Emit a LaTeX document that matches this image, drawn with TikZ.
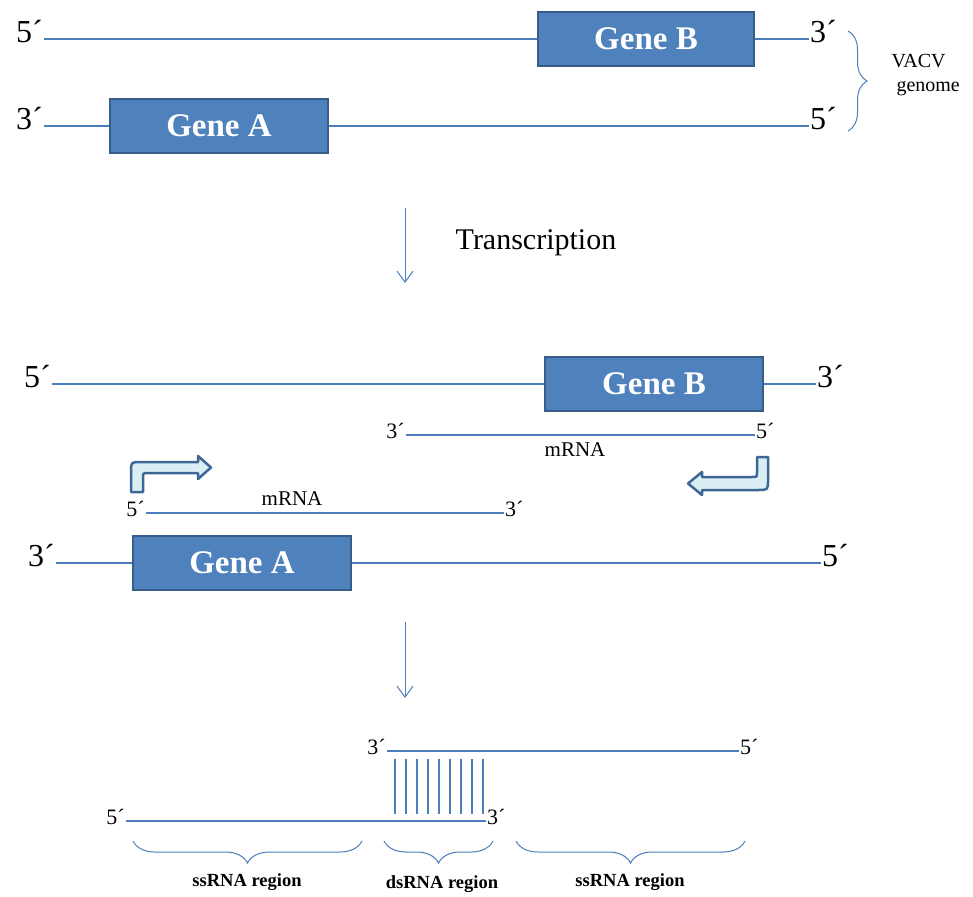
\documentclass[tikz,border=0pt]{standalone}
\usepackage{fontspec}
\setmainfont{Liberation Serif}
\usepackage{tikz}
\usetikzlibrary{arrows.meta,
	calc,
	decorations.pathreplacing}
\definecolor{strandblue}{HTML}{4A7EBB}
\definecolor{genefill}{HTML}{4F81BD}
\definecolor{genedraw}{HTML}{385D8A}
\definecolor{bentdraw}{HTML}{3F6796}
\definecolor{bentfill}{HTML}{DBEEF4}

\begin{document}
\begin{tikzpicture}[x=1pt,y=-1pt]
    \tikzstyle{strand}=[strandblue,line width=1.5pt]
    \tikzstyle{gene}=[rectangle,draw=genedraw,fill=genefill,line width=2.5pt,text=white,font=\fontsize{33}{33}\selectfont\bfseries,minimum height=54pt,inner sep=0pt]
    \tikzstyle{endbig}=[inner sep=1pt,text height=0.7em,text depth=0pt,font=\fontsize{32}{32}\selectfont]
    \tikzstyle{endsmall}=[inner sep=1pt,text height=0.7em,text depth=0pt,font=\fontsize{22}{22}\selectfont]
    \tikzstyle{flow}=[strandblue,line width=1pt,-{Straight Barb[length=11pt,width=16pt]}]
    \tikzstyle{bent}=[draw=bentdraw,fill=bentfill,line width=2.5pt,line join=round]
    \tikzstyle{brace}=[strandblue,line width=1pt,decorate]
    \tikzstyle{region}=[font=\fontsize{18.5}{18.5}\selectfont\bfseries]
    \useasboundingbox (0,0) rectangle (973,896);
    % genome
    \node[endbig,anchor=east] (e_1) at (44,39) {5´};
    \node[gene,minimum width=216pt] (gB_1) at (646,39) {Gene B};
    \node[endbig,anchor=west] (e_2) at (809,39) {3´};
    \draw[strand] (e_1.east) -- (e_1.east -| gB_1.west);
    \draw[strand] (gB_1.east |- e_2.west) -- (e_2.west);
    \node[endbig,anchor=east] (e_3) at (44,126) {3´};
    \node[gene,minimum width=218pt] (gA_1) at (219,126) {Gene A};
    \node[endbig,anchor=west] (e_4) at (809,126) {5´};
    \draw[strand] (e_3.east) -- (e_3.east -| gA_1.west);
    \draw[strand] (gA_1.east |- e_4.west) -- (e_4.west);
    \draw[brace,decoration={brace,amplitude=19pt}] (848,31) -- (848,131);
    \node[anchor=west,align=left,font=\fontsize{20}{26}\selectfont] (vacv) at (888,75) {VACV\\[-2pt]\ genome};
    % transcription
    \coordinate (a_1) at (405,208);
    \coordinate (a_2) at (405,283);
    \draw[flow] (a_1) -- (a_2);
    \node[font=\fontsize{30}{30}\selectfont] (tr) at (536,243) {Transcription};
    % transcripts
    \node[endbig,anchor=east] (e_5) at (52,384) {5´};
    \node[gene,minimum width=218pt] (gB_2) at (654,384) {Gene B};
    \node[endbig,anchor=west] (e_6) at (816,384) {3´};
    \draw[strand] (e_5.east) -- (e_5.east -| gB_2.west);
    \draw[strand] (gB_2.east |- e_6.west) -- (e_6.west);
    \node[endsmall,anchor=east] (m_1) at (406,435) {3´};
    \node[endsmall,anchor=west] (m_2) at (755,435) {5´};
    \draw[strand] (m_1) -- (m_2);
    \node[font=\fontsize{21}{21}\selectfont] (mB) at (575,450) {mRNA};
    \draw[bent] (131,492) -- (131,472) .. controls (131,462) .. (141,462) -- (198,462) -- (198,456)
      -- (211,467.5) -- (198,479) -- (198,473) -- (148,473) .. controls (143,473) .. (143,478) -- (143,492) -- cycle;
    \draw[bent] (768,457) -- (768,480) .. controls (768,490) .. (758,490) -- (702,490) -- (702,495)
      -- (688,483.5) -- (702,472) -- (702,477) -- (752,477) .. controls (757,477) .. (757,472) -- (757,457) -- cycle;
    \node[endsmall,anchor=east] (m_3) at (146,513) {5´};
    \node[endsmall,anchor=west] (m_4) at (504,513) {3´};
    \draw[strand] (m_3) -- (m_4);
    \node[font=\fontsize{21}{21}\selectfont] (mA) at (292,499) {mRNA};
    \node[endbig,anchor=east] (e_7) at (56,563) {3´};
    \node[gene,minimum width=218pt] (gA_2) at (242,563) {Gene A};
    \node[endbig,anchor=west] (e_8) at (821,563) {5´};
    \draw[strand] (e_7.east) -- (e_7.east -| gA_2.west);
    \draw[strand] (gA_2.east |- e_8.west) -- (e_8.west);
    % duplex
    \coordinate (a_3) at (405,622);
    \coordinate (a_4) at (405,698);
    \draw[flow] (a_3) -- (a_4);
    \node[endsmall,anchor=east] (d_1) at (387,751) {3´};
    \node[endsmall,anchor=west] (d_2) at (739,751) {5´};
    \draw[strand] (d_1) -- (d_2);
    \node[endsmall,anchor=east] (d_3) at (126,821) {5´};
    \node[endsmall,anchor=west] (d_4) at (486,821) {3´};
    \draw[strand] (d_3) -- (d_4);
    \foreach \i in {0,...,8}
      \draw[strand] (395+\i*11,759) -- (395+\i*11,814);
    \draw[brace,decoration={brace,mirror,amplitude=22pt}] (133,841) -- (362,841);
    \draw[brace,decoration={brace,mirror,amplitude=22pt}] (384,841) -- (493,841);
    \draw[brace,decoration={brace,mirror,amplitude=22pt}] (516,841) -- (745,841);
    \node[region] (r_1) at (247,882) {ssRNA region};
    \node[region] (r_2) at (442,884) {dsRNA region};
    \node[region] (r_3) at (630,882) {ssRNA region};
\end{tikzpicture}
\end{document}
